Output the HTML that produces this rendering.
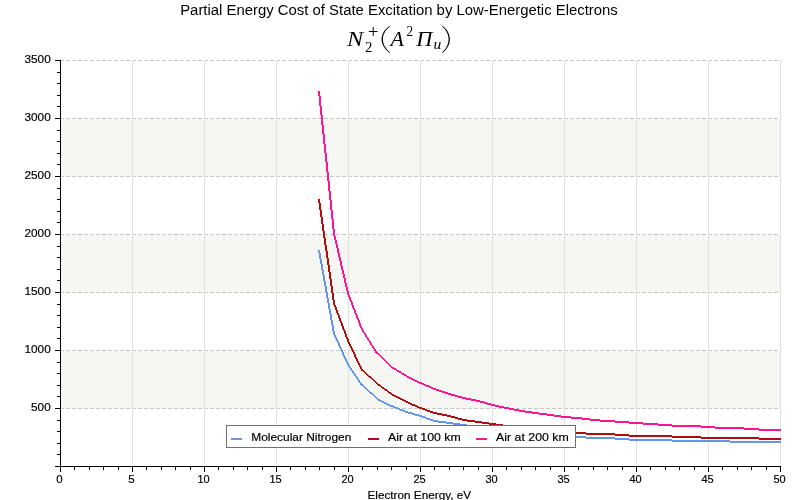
<!DOCTYPE html>
<html><head><meta charset="utf-8"><title>Partial Energy Cost of State Excitation by Low-Energetic Electrons</title>
<style>
html,body{margin:0;padding:0;background:#fff;}
body{width:800px;height:500px;overflow:hidden;font-family:"Liberation Sans",sans-serif;}
svg{display:block;will-change:transform;}
text{font-family:"Liberation Sans",sans-serif;fill:#000;stroke:#000;stroke-width:0.18px;}
.ser,.serr{stroke:none;}
.ser{font-family:"Liberation Serif",serif;font-style:italic;}
.serr{font-family:"Liberation Serif",serif;font-style:normal;}
</style></head><body>
<svg width="800" height="500" viewBox="0 0 800 500">
<rect x="0" y="0" width="800" height="500" fill="#ffffff"/>
<g shape-rendering="crispEdges">
<rect x="61" y="119" width="719" height="58" fill="#f6f6f2"/>
<rect x="61" y="235" width="719" height="58" fill="#f6f6f2"/>
<rect x="61" y="351" width="719" height="58" fill="#f6f6f2"/>
<line x1="60" y1="408.5" x2="780" y2="408.5" stroke="#c8c8c8" stroke-width="1" stroke-dasharray="4 2"/>
<line x1="60" y1="350.5" x2="780" y2="350.5" stroke="#c8c8c8" stroke-width="1" stroke-dasharray="4 2"/>
<line x1="60" y1="292.5" x2="780" y2="292.5" stroke="#c8c8c8" stroke-width="1" stroke-dasharray="4 2"/>
<line x1="60" y1="234.5" x2="780" y2="234.5" stroke="#c8c8c8" stroke-width="1" stroke-dasharray="4 2"/>
<line x1="60" y1="176.5" x2="780" y2="176.5" stroke="#c8c8c8" stroke-width="1" stroke-dasharray="4 2"/>
<line x1="60" y1="118.5" x2="780" y2="118.5" stroke="#c8c8c8" stroke-width="1" stroke-dasharray="4 2"/>
<line x1="60" y1="60.5" x2="780" y2="60.5" stroke="#c8c8c8" stroke-width="1" stroke-dasharray="4 2"/>
<rect x="132" y="60" width="1" height="406" fill="#e0e0e0"/>
<rect x="204" y="60" width="1" height="406" fill="#e0e0e0"/>
<rect x="276" y="60" width="1" height="406" fill="#e0e0e0"/>
<rect x="348" y="60" width="1" height="406" fill="#e0e0e0"/>
<rect x="420" y="60" width="1" height="406" fill="#e0e0e0"/>
<rect x="492" y="60" width="1" height="406" fill="#e0e0e0"/>
<rect x="564" y="60" width="1" height="406" fill="#e0e0e0"/>
<rect x="636" y="60" width="1" height="406" fill="#e0e0e0"/>
<rect x="708" y="60" width="1" height="406" fill="#e0e0e0"/>
<rect x="780" y="60" width="1" height="406" fill="#e0e0e0"/>
</g>
<g shape-rendering="crispEdges" stroke="none">
<path d="M318 250h2v3h-2zM319 253h2v6h-2zM320 259h2v5h-2zM321 264h2v6h-2zM322 270h2v5h-2zM323 275h2v6h-2zM324 281h2v5h-2zM325 286h2v6h-2zM326 292h2v6h-2zM327 298h2v5h-2zM328 303h2v6h-2zM329 309h2v5h-2zM330 314h2v6h-2zM331 320h2v5h-2zM332 325h2v6h-2zM333 331h2v4h-2zM334 335h2v2h-2zM335 337h2v2h-2zM336 339h2v2h-2zM337 341h2v2h-2zM338 343h2v3h-2zM339 346h2v2h-2zM340 348h2v2h-2zM341 350h2v2h-2zM342 352h2v3h-2zM343 355h2v2h-2zM344 357h2v2h-2zM345 359h2v2h-2zM346 361h2v2h-2zM347 363h2v2h-2zM348 365h2v2h-2zM349 367h2v1h-2zM350 368h2v2h-2zM351 370h2v1h-2zM352 371h2v2h-2zM353 373h2v1h-2zM354 374h2v2h-2zM355 376h2v1h-2zM356 377h2v2h-2zM357 379h2v1h-2zM358 380h2v2h-2zM359 382h2v1h-2zM360 383h2v1h-2zM360 384h3v1h-3zM361 385h3v1h-3zM363 386h2v1h-2zM364 387h2v1h-2zM365 388h2v1h-2zM366 389h2v1h-2zM367 390h2v1h-2zM368 391h2v1h-2zM369 392h3v1h-3zM370 393h3v1h-3zM372 394h2v1h-2zM373 395h2v1h-2zM374 396h2v1h-2zM375 397h2v1h-2zM376 398h2v1h-2zM377 399h3v1h-3zM378 400h4v1h-4zM380 401h4v1h-4zM382 402h4v1h-4zM384 403h4v1h-4zM386 404h4v1h-4zM388 405h5v1h-5zM390 406h5v1h-5zM393 407h5v1h-5zM395 408h5v1h-5zM398 409h5v1h-5zM400 410h5v1h-5zM403 411h5v1h-5zM405 412h7v1h-7zM408 413h7v1h-7zM412 414h7v1h-7zM415 415h7v1h-7zM419 416h6v1h-6zM422 417h5v1h-5zM425 418h5v1h-5zM427 419h6v1h-6zM430 420h8v1h-8zM433 421h13v1h-13zM438 422h15v1h-15zM446 423h14v1h-14zM453 424h14v1h-14zM460 425h15v1h-15zM467 426h15v1h-15zM475 427h14v1h-14zM482 428h14v1h-14zM489 429h14v1h-14zM496 430h14v1h-14zM503 431h15v1h-15zM510 432h18v1h-18zM518 433h25v1h-25zM528 434h29v1h-29zM543 435h28v1h-28zM557 436h29v1h-29zM571 437h44v1h-44zM586 438h43v1h-43zM615 439h57v1h-57zM629 440h101v1h-101zM672 441h109v1h-109zM730 442h51v1h-51z" fill="#6495ed"/>
<path d="M318 199h2v4h-2zM319 203h2v7h-2zM320 210h2v7h-2zM321 217h2v7h-2zM322 224h2v7h-2zM323 231h2v7h-2zM324 238h2v7h-2zM325 245h2v6h-2zM326 251h2v7h-2zM327 258h2v7h-2zM328 265h2v7h-2zM329 272h2v7h-2zM330 279h2v7h-2zM331 286h2v7h-2zM332 293h2v7h-2zM333 300h2v5h-2zM334 305h2v2h-2zM335 307h2v3h-2zM336 310h2v3h-2zM337 313h2v2h-2zM338 315h2v3h-2zM339 318h2v3h-2zM340 321h2v2h-2zM341 323h2v3h-2zM342 326h2v3h-2zM343 329h2v2h-2zM344 331h2v3h-2zM345 334h2v3h-2zM346 337h2v2h-2zM347 339h2v3h-2zM348 342h2v2h-2zM349 344h2v2h-2zM350 346h2v2h-2zM351 348h2v2h-2zM352 350h2v2h-2zM353 352h2v2h-2zM354 354h2v3h-2zM355 357h2v2h-2zM356 359h2v2h-2zM357 361h2v2h-2zM358 363h2v2h-2zM359 365h2v2h-2zM360 367h2v2h-2zM361 369h2v1h-2zM361 370h3v1h-3zM363 371h2v1h-2zM364 372h2v1h-2zM365 373h2v1h-2zM366 374h2v1h-2zM367 375h2v1h-2zM368 376h3v1h-3zM369 377h3v1h-3zM371 378h2v1h-2zM372 379h2v1h-2zM373 380h2v1h-2zM374 381h2v1h-2zM375 382h2v1h-2zM376 383h2v1h-2zM377 384h3v1h-3zM378 385h3v1h-3zM380 386h2v1h-2zM381 387h3v1h-3zM382 388h3v1h-3zM384 389h3v1h-3zM385 390h3v1h-3zM387 391h2v1h-2zM388 392h3v1h-3zM389 393h3v1h-3zM391 394h3v1h-3zM392 395h4v1h-4zM394 396h4v1h-4zM396 397h4v1h-4zM398 398h4v1h-4zM400 399h4v1h-4zM402 400h4v1h-4zM404 401h4v1h-4zM406 402h4v1h-4zM408 403h4v1h-4zM410 404h5v1h-5zM412 405h5v1h-5zM415 406h4v1h-4zM417 407h5v1h-5zM419 408h6v1h-6zM422 409h5v1h-5zM425 410h5v1h-5zM427 411h6v1h-6zM430 412h7v1h-7zM433 413h9v1h-9zM437 414h10v1h-10zM442 415h9v1h-9zM447 416h8v1h-8zM451 417h7v1h-7zM455 418h7v1h-7zM458 419h9v1h-9zM462 420h13v1h-13zM467 421h15v1h-15zM475 422h14v1h-14zM482 423h14v1h-14zM489 424h14v1h-14zM496 425h14v1h-14zM503 426h15v1h-15zM510 427h18v1h-18zM518 428h21v1h-21zM528 429h19v1h-19zM539 430h18v1h-18zM547 431h24v1h-24zM557 432h29v1h-29zM571 433h44v1h-44zM586 434h43v1h-43zM615 435h57v1h-57zM629 436h72v1h-72zM672 437h87v1h-87zM701 438h80v1h-80zM759 439h22v1h-22z" fill="#b20c0c"/>
<path d="M318 91h2v5h-2zM319 96h2v10h-2zM320 106h2v9h-2zM321 115h2v10h-2zM322 125h2v9h-2zM323 134h2v10h-2zM324 144h2v9h-2zM325 153h2v9h-2zM326 162h2v10h-2zM327 172h2v9h-2zM328 181h2v10h-2zM329 191h2v9h-2zM330 200h2v10h-2zM331 210h2v9h-2zM332 219h2v10h-2zM333 229h2v7h-2zM334 236h2v4h-2zM335 240h2v4h-2zM336 244h2v4h-2zM337 248h2v5h-2zM338 253h2v4h-2zM339 257h2v4h-2zM340 261h2v5h-2zM341 266h2v4h-2zM342 270h2v4h-2zM343 274h2v4h-2zM344 278h2v5h-2zM345 283h2v4h-2zM346 287h2v4h-2zM347 291h2v4h-2zM348 295h2v2h-2zM349 297h2v3h-2zM350 300h2v2h-2zM351 302h2v3h-2zM352 305h2v3h-2zM353 308h2v2h-2zM354 310h2v3h-2zM355 313h2v2h-2zM356 315h2v3h-2zM357 318h2v2h-2zM358 320h2v3h-2zM359 323h2v3h-2zM360 326h2v2h-2zM361 328h2v2h-2zM362 330h2v2h-2zM363 332h2v1h-2zM364 333h2v2h-2zM365 335h2v2h-2zM366 337h2v1h-2zM367 338h2v2h-2zM368 340h2v1h-2zM369 341h2v2h-2zM370 343h2v2h-2zM371 345h2v1h-2zM372 346h2v2h-2zM373 348h2v1h-2zM374 349h2v2h-2zM375 351h2v1h-2zM375 352h3v1h-3zM376 353h3v1h-3zM378 354h2v1h-2zM379 355h2v1h-2zM380 356h2v1h-2zM381 357h2v1h-2zM382 358h2v1h-2zM383 359h2v1h-2zM384 360h2v1h-2zM385 361h2v1h-2zM386 362h2v1h-2zM387 363h2v1h-2zM388 364h2v1h-2zM389 365h2v1h-2zM390 366h2v1h-2zM391 367h3v1h-3zM392 368h4v1h-4zM394 369h3v1h-3zM396 370h3v1h-3zM397 371h4v1h-4zM399 372h3v1h-3zM401 373h3v1h-3zM402 374h4v1h-4zM404 375h3v1h-3zM406 376h3v1h-3zM407 377h4v1h-4zM409 378h4v1h-4zM411 379h4v1h-4zM413 380h4v1h-4zM415 381h4v1h-4zM417 382h5v1h-5zM419 383h5v1h-5zM422 384h4v1h-4zM424 385h5v1h-5zM426 386h5v1h-5zM429 387h4v1h-4zM431 388h5v1h-5zM433 389h6v1h-6zM436 390h6v1h-6zM439 391h6v1h-6zM442 392h6v1h-6zM445 393h6v1h-6zM448 394h7v1h-7zM451 395h7v1h-7zM455 396h7v1h-7zM458 397h8v1h-8zM462 398h9v1h-9zM466 399h10v1h-10zM471 400h9v1h-9zM476 401h8v1h-8zM480 402h7v1h-7zM484 403h7v1h-7zM487 404h8v1h-8zM491 405h8v1h-8zM495 406h9v1h-9zM499 407h10v1h-10zM504 408h10v1h-10zM509 409h10v1h-10zM514 410h11v1h-11zM519 411h13v1h-13zM525 412h14v1h-14zM532 413h15v1h-15zM539 414h15v1h-15zM547 415h14v1h-14zM554 416h17v1h-17zM561 417h21v1h-21zM571 418h19v1h-19zM582 419h18v1h-18zM590 420h25v1h-25zM600 421h29v1h-29zM615 422h28v1h-28zM629 423h29v1h-29zM643 424h29v1h-29zM658 425h43v1h-43zM672 426h43v1h-43zM701 427h43v1h-43zM715 428h44v1h-44zM744 429h37v1h-37zM759 430h22v1h-22z" fill="#ff1493"/>
</g>
<g shape-rendering="crispEdges" fill="#000">
<rect x="60" y="60" width="1" height="407"/>
<rect x="60" y="466" width="721" height="1"/>
<rect x="55" y="466" width="5" height="1"/>
<rect x="57" y="454" width="3" height="1"/>
<rect x="57" y="443" width="3" height="1"/>
<rect x="57" y="431" width="3" height="1"/>
<rect x="57" y="420" width="3" height="1"/>
<rect x="55" y="408" width="5" height="1"/>
<rect x="57" y="396" width="3" height="1"/>
<rect x="57" y="385" width="3" height="1"/>
<rect x="57" y="373" width="3" height="1"/>
<rect x="57" y="362" width="3" height="1"/>
<rect x="55" y="350" width="5" height="1"/>
<rect x="57" y="338" width="3" height="1"/>
<rect x="57" y="327" width="3" height="1"/>
<rect x="57" y="315" width="3" height="1"/>
<rect x="57" y="304" width="3" height="1"/>
<rect x="55" y="292" width="5" height="1"/>
<rect x="57" y="280" width="3" height="1"/>
<rect x="57" y="269" width="3" height="1"/>
<rect x="57" y="257" width="3" height="1"/>
<rect x="57" y="246" width="3" height="1"/>
<rect x="55" y="234" width="5" height="1"/>
<rect x="57" y="222" width="3" height="1"/>
<rect x="57" y="211" width="3" height="1"/>
<rect x="57" y="199" width="3" height="1"/>
<rect x="57" y="188" width="3" height="1"/>
<rect x="55" y="176" width="5" height="1"/>
<rect x="57" y="164" width="3" height="1"/>
<rect x="57" y="153" width="3" height="1"/>
<rect x="57" y="141" width="3" height="1"/>
<rect x="57" y="130" width="3" height="1"/>
<rect x="55" y="118" width="5" height="1"/>
<rect x="57" y="106" width="3" height="1"/>
<rect x="57" y="95" width="3" height="1"/>
<rect x="57" y="83" width="3" height="1"/>
<rect x="57" y="72" width="3" height="1"/>
<rect x="55" y="60" width="5" height="1"/>
<rect x="60" y="467" width="1" height="5"/>
<rect x="74" y="467" width="1" height="3"/>
<rect x="89" y="467" width="1" height="3"/>
<rect x="103" y="467" width="1" height="3"/>
<rect x="118" y="467" width="1" height="3"/>
<rect x="132" y="467" width="1" height="5"/>
<rect x="146" y="467" width="1" height="3"/>
<rect x="161" y="467" width="1" height="3"/>
<rect x="175" y="467" width="1" height="3"/>
<rect x="190" y="467" width="1" height="3"/>
<rect x="204" y="467" width="1" height="5"/>
<rect x="218" y="467" width="1" height="3"/>
<rect x="233" y="467" width="1" height="3"/>
<rect x="247" y="467" width="1" height="3"/>
<rect x="262" y="467" width="1" height="3"/>
<rect x="276" y="467" width="1" height="5"/>
<rect x="290" y="467" width="1" height="3"/>
<rect x="305" y="467" width="1" height="3"/>
<rect x="319" y="467" width="1" height="3"/>
<rect x="334" y="467" width="1" height="3"/>
<rect x="348" y="467" width="1" height="5"/>
<rect x="362" y="467" width="1" height="3"/>
<rect x="377" y="467" width="1" height="3"/>
<rect x="391" y="467" width="1" height="3"/>
<rect x="406" y="467" width="1" height="3"/>
<rect x="420" y="467" width="1" height="5"/>
<rect x="434" y="467" width="1" height="3"/>
<rect x="449" y="467" width="1" height="3"/>
<rect x="463" y="467" width="1" height="3"/>
<rect x="478" y="467" width="1" height="3"/>
<rect x="492" y="467" width="1" height="5"/>
<rect x="506" y="467" width="1" height="3"/>
<rect x="521" y="467" width="1" height="3"/>
<rect x="535" y="467" width="1" height="3"/>
<rect x="550" y="467" width="1" height="3"/>
<rect x="564" y="467" width="1" height="5"/>
<rect x="578" y="467" width="1" height="3"/>
<rect x="593" y="467" width="1" height="3"/>
<rect x="607" y="467" width="1" height="3"/>
<rect x="622" y="467" width="1" height="3"/>
<rect x="636" y="467" width="1" height="5"/>
<rect x="650" y="467" width="1" height="3"/>
<rect x="665" y="467" width="1" height="3"/>
<rect x="679" y="467" width="1" height="3"/>
<rect x="694" y="467" width="1" height="3"/>
<rect x="708" y="467" width="1" height="5"/>
<rect x="722" y="467" width="1" height="3"/>
<rect x="737" y="467" width="1" height="3"/>
<rect x="751" y="467" width="1" height="3"/>
<rect x="766" y="467" width="1" height="3"/>
<rect x="780" y="467" width="1" height="5"/>
</g>
<text x="31.1" y="411" font-size="11" textLength="19.6" lengthAdjust="spacingAndGlyphs">500</text>
<text x="24.5" y="353" font-size="11" textLength="26.2" lengthAdjust="spacingAndGlyphs">1000</text>
<text x="24.5" y="295" font-size="11" textLength="26.2" lengthAdjust="spacingAndGlyphs">1500</text>
<text x="24.5" y="237" font-size="11" textLength="26.2" lengthAdjust="spacingAndGlyphs">2000</text>
<text x="24.5" y="179" font-size="11" textLength="26.2" lengthAdjust="spacingAndGlyphs">2500</text>
<text x="24.5" y="121" font-size="11" textLength="26.2" lengthAdjust="spacingAndGlyphs">3000</text>
<text x="24.5" y="63" font-size="11" textLength="26.2" lengthAdjust="spacingAndGlyphs">3500</text>
<text x="56.3" y="483" font-size="11" textLength="6.4" lengthAdjust="spacingAndGlyphs">0</text>
<text x="128.3" y="483" font-size="11" textLength="6.4" lengthAdjust="spacingAndGlyphs">5</text>
<text x="197.4" y="483" font-size="11" textLength="12.2" lengthAdjust="spacingAndGlyphs">10</text>
<text x="269.4" y="483" font-size="11" textLength="12.2" lengthAdjust="spacingAndGlyphs">15</text>
<text x="341.4" y="483" font-size="11" textLength="12.2" lengthAdjust="spacingAndGlyphs">20</text>
<text x="413.4" y="483" font-size="11" textLength="12.2" lengthAdjust="spacingAndGlyphs">25</text>
<text x="485.4" y="483" font-size="11" textLength="12.2" lengthAdjust="spacingAndGlyphs">30</text>
<text x="557.4" y="483" font-size="11" textLength="12.2" lengthAdjust="spacingAndGlyphs">35</text>
<text x="629.4" y="483" font-size="11" textLength="12.2" lengthAdjust="spacingAndGlyphs">40</text>
<text x="701.4" y="483" font-size="11" textLength="12.2" lengthAdjust="spacingAndGlyphs">45</text>
<text x="773.4" y="483" font-size="11" textLength="12.2" lengthAdjust="spacingAndGlyphs">50</text>
<text x="367.5" y="499" font-size="11" textLength="103.6" lengthAdjust="spacingAndGlyphs">Electron Energy, eV</text>
<text style="stroke:none" x="180.2" y="14.7" font-size="13.8" textLength="437.6" lengthAdjust="spacingAndGlyphs">Partial Energy Cost of State Excitation by Low-Energetic Electrons</text>
<g id="formula">
<text class="ser" x="347.1" y="46" font-size="21.5" textLength="16.2" lengthAdjust="spacingAndGlyphs">N</text>
<text class="serr" x="365" y="52" font-size="15" textLength="7.4" lengthAdjust="spacingAndGlyphs">2</text>
<path d="M368.9 31.5H377.5M373.2 27.1V35.9" stroke="#000" stroke-width="1" fill="none"/>
<path d="M389.80 25.70 C384.47 29.30 381.60 34.30 381.60 39.35 C381.60 44.40 384.47 49.40 389.80 53.00 L390.25 52.45 C385.31 48.80 382.90 44.00 382.90 39.35 C382.90 34.70 385.31 29.90 390.25 26.25 Z" fill="#000"/>
<text class="ser" x="390.6" y="46" font-size="21.5" textLength="13.4" lengthAdjust="spacingAndGlyphs">A</text>
<text class="serr" x="406.6" y="36" font-size="14.5" textLength="6.6" lengthAdjust="spacingAndGlyphs">2</text>
<text class="ser" x="416.3" y="46" font-size="21.5" textLength="16.2" lengthAdjust="spacingAndGlyphs">&#928;</text>
<text class="ser" x="433.6" y="48.8" font-size="15" textLength="7.8" lengthAdjust="spacingAndGlyphs">u</text>
<path d="M442.50 25.70 C447.31 29.30 449.90 34.30 449.90 39.35 C449.90 44.40 447.31 49.40 442.50 53.00 L442.05 52.45 C446.47 48.80 448.60 44.00 448.60 39.35 C448.60 34.70 446.47 29.90 442.05 26.25 Z" fill="#000"/>
</g>
<g shape-rendering="crispEdges">
<rect x="226.5" y="425.5" width="349" height="22" fill="#fff" stroke="#707070" stroke-width="1"/>
<rect x="231" y="438" width="11" height="2" fill="#6495ed"/>
<rect x="368" y="438" width="11" height="2" fill="#b20c0c"/>
<rect x="476" y="438" width="11" height="2" fill="#ff1493"/>
</g>
<text x="251.3" y="441" font-size="11" textLength="100" lengthAdjust="spacingAndGlyphs">Molecular Nitrogen</text>
<text x="388.1" y="441" font-size="11" textLength="72.6" lengthAdjust="spacingAndGlyphs">Air at 100 km</text>
<text x="496.1" y="441" font-size="11" textLength="72.6" lengthAdjust="spacingAndGlyphs">Air at 200 km</text>
</svg></body></html>
